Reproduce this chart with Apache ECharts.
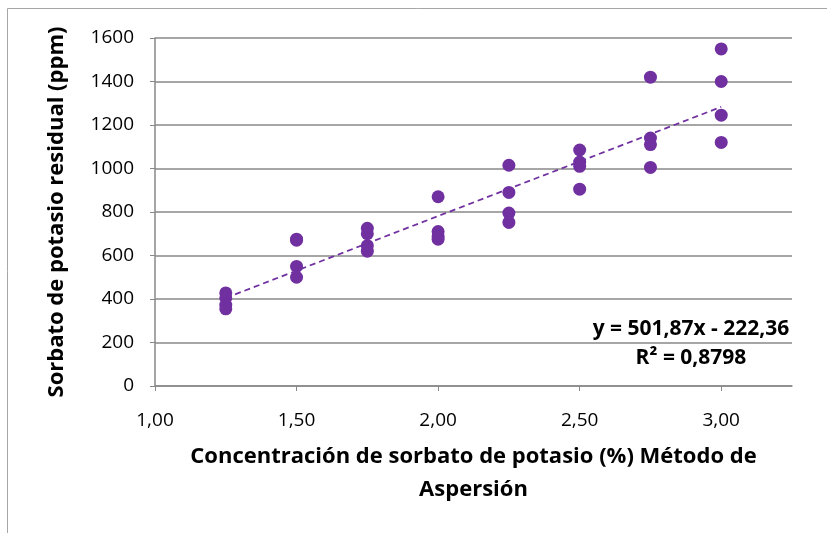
<!DOCTYPE html>
<html>
<head>
<meta charset="utf-8">
<script src="https://cdn.jsdelivr.net/npm/echarts@6/dist/echarts.min.js"></script>
<style>
  html, body { margin: 0; padding: 0; background: #fff; }
  #chart { width: 827px; height: 533px; }
</style>
</head>
<body>
<div id="chart"></div>
<script>
// Concentración (%) for each measured sample
const concentracion = [
  1.25, 1.25, 1.25, 1.25,
  1.50, 1.50, 1.50, 1.50,
  1.75, 1.75, 1.75, 1.75,
  2.00, 2.00, 2.00, 2.00,
  2.25, 2.25, 2.25, 2.25,
  2.50, 2.50, 2.50, 2.50,
  2.75, 2.75, 2.75, 2.75,
  3.00, 3.00, 3.00, 3.00
];
// Sorbato residual (ppm) measured for each sample
const sorbatoResidual = [
  428, 405, 372, 355,
  675, 670, 550, 500,
  725, 700, 645, 620,
  870, 710, 690, 675,
  1015, 890, 795, 752,
  1085, 1030, 1010, 905,
  1420, 1140, 1110, 1005,
  1550, 1400, 1245, 1120
];
// Linear trend line coefficients and fit quality
const pendiente = 501.87;
const intercepto = -222.36;
const r2 = 0.8798;
const rangoTendencia = [1.25, 3.00];

const puntos = concentracion.map((x, i) => [x, sorbatoResidual[i]]);
const tendencia = rangoTendencia.map(x => [x, pendiente * x + intercepto]);

const fmtComa = (v, d) => v.toFixed(d).replace('.', ',');
const fuente = '"Open Sans", "Noto Sans", sans-serif';
const purpura = '#7030A0';
const gris = '#898989';

const chart = echarts.init(document.getElementById('chart'), null, { renderer: 'canvas' });
chart.setOption({
  animation: false,
  backgroundColor: '#fff',
  textStyle: { fontFamily: fuente },
  grid: { left: 155, right: 35, top: 38, bottom: 147 },
  xAxis: {
    type: 'value',
    min: 1, max: 3.25, interval: 0.5,
    name: 'Concentración de sorbato de potasio (%) Método de\nAspersión',
    nameLocation: 'middle',
    nameGap: 54,
    nameTextStyle: { fontFamily: fuente, fontSize: 22, fontWeight: 'bold', color: '#000', lineHeight: 33, verticalAlign: 'top' },
    axisLine: { lineStyle: { color: gris, width: 1.5 } },
    axisTick: { show: true, length: 5, lineStyle: { color: gris } },
    axisLabel: { fontSize: 19, color: '#000', margin: 25, showMaxLabel: false, formatter: v => fmtComa(v, 2) },
    splitLine: { show: false }
  },
  yAxis: {
    type: 'value',
    min: 0, max: 1600, interval: 200,
    name: 'Sorbato de potasio residual (ppm)',
    nameLocation: 'middle',
    nameGap: 87,
    nameTextStyle: { fontFamily: fuente, fontSize: 22, fontWeight: 'bold', color: '#000' },
    axisLine: { show: true, lineStyle: { color: gris, width: 1.5 } },
    axisTick: { show: true, length: 5, lineStyle: { color: gris } },
    axisLabel: { fontSize: 19, color: '#000', margin: 21, formatter: v => String(v) },
    splitLine: { lineStyle: { color: gris, width: 1.5 } }
  },
  series: [
    {
      type: 'scatter',
      data: puntos,
      symbol: 'circle',
      symbolSize: 13,
      itemStyle: { color: purpura, opacity: 1 }
    },
    {
      type: 'line',
      data: tendencia,
      symbol: 'none',
      lineStyle: { color: purpura, width: 1.75, type: [6, 4] },
      z: 3
    }
  ],
  graphic: [
    {
      type: 'rect',
      shape: { x: 7.5, y: 8.5, width: 840, height: 560 },
      style: { fill: 'none', stroke: '#a6a6a6', lineWidth: 1 },
      silent: true, z: -1
    },
    {
      type: 'text',
      x: 691, y: 329,
      style: {
        text: 'y = ' + fmtComa(pendiente, 2) + 'x - ' + fmtComa(-intercepto, 2),
        font: 'bold 21px ' + fuente, fill: '#000', align: 'center', verticalAlign: 'middle'
      }
    },
    {
      type: 'text',
      x: 691, y: 358,
      style: {
        text: 'R² = ' + fmtComa(r2, 4),
        font: 'bold 21px ' + fuente, fill: '#000', align: 'center', verticalAlign: 'middle'
      }
    }
  ]
});
</script>
</body>
</html>
